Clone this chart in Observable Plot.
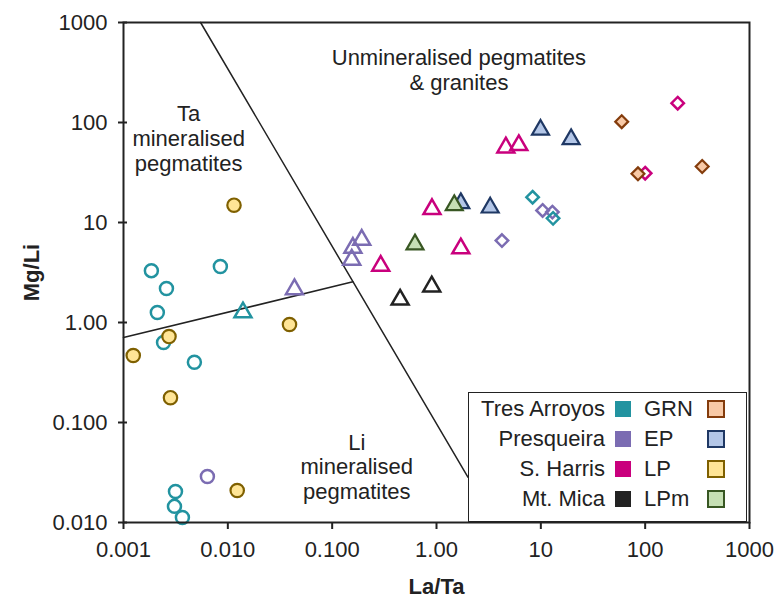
<!DOCTYPE html>
<html>
<head>
<meta charset="utf-8">
<script src="https://cdn.jsdelivr.net/npm/d3@7"></script>
<script src="https://cdn.jsdelivr.net/npm/@observablehq/plot@0.6"></script>
<style>
  html, body { margin: 0; padding: 0; background: #fff; }
  #wrap { position: relative; width: 779px; height: 605px; font-family: "Liberation Sans", Arial, sans-serif; }
  [aria-label="x-axis label"], [aria-label="y-axis label"] { font-weight: bold; }
  #legend { position: absolute; left: 468px; top: 392px; width: 279px; height: 130px;
            box-sizing: border-box; border: 1.5px solid #222; background: #fff; color: #222;
            font-size: 22px; }
  #legend span { position: absolute; }
</style>
</head>
<body>
<div id="wrap"></div>
<script>
// ---- tick labels ----
const xTicks = [0.001, 0.01, 0.1, 1, 10, 100, 1000];
const xTickLabels = ["0.001", "0.010", "0.100", "1.00", "10", "100", "1000"];
const yTicks = [0.01, 0.1, 1, 10, 100, 1000];
const yTickLabels = ["0.010", "0.100", "1.00", "10", "100", "1000"];

// ---- legend categories ----
const localities = ["Tres Arroyos", "Presqueira", "S. Harris", "Mt. Mica"];
const rockTypes = ["GRN", "EP", "LP", "LPm"];

// ---- data [La/Ta, Mg/Li] ----
const tresArroyosLP = [[0.00185, 3.3], [0.00258, 2.19], [0.00211, 1.26], [0.00848, 3.63], [0.00242, 0.63],
                       [0.00478, 0.40], [0.00315, 0.0204], [0.00308, 0.0145], [0.00367, 0.0112]];
const tresArroyosEP = [[0.01396, 1.26]];
const tresArroyosGRN = [[8.34, 17.9], [13.1, 11.0]];
const presqueiraEP = [[0.0435, 2.15], [0.192, 6.71], [0.158, 5.58], [0.154, 4.24]];
const presqueiraLP = [[0.00637, 0.0288]];
const presqueiraGRN = [[4.24, 6.6], [10.4, 13.2], [12.9, 12.7]];
const sHarrisEP = [[0.292, 3.69], [0.905, 13.6], [1.71, 5.50], [4.62, 56.2], [6.15, 59.3]];
const sHarrisGRN = [[205, 156], [100, 31.1]];
const mtMicaEP = [[0.448, 1.69], [0.90, 2.29]];
const grnRef = [[59.6, 102], [85.3, 30.7], [352, 36.3]];
const epRef = [[1.71, 15.6], [3.27, 14.1], [9.93, 84.5], [19.5, 68.1]];
const lpRef = [[0.01146, 14.9], [0.00273, 0.724], [0.039, 0.955], [0.00124, 0.468], [0.00282, 0.177], [0.0123, 0.0209]];
const lpmRef = [[0.622, 6.03], [1.48, 14.9]];

// ---- field boundaries ----
const boundaryTa = [[0.00548, 1000], [2.0, 0.0284]];
const boundaryLi = [[0.001, 0.707], [0.158, 2.55]];

// ---- field labels ----
const fieldLabels = [
  {x: 1.64, y: 339, text: "Unmineralised pegmatites\n& granites"},
  {x: 0.00421, y: 70, text: "Ta\nmineralised\npegmatites"},
  {x: 0.172, y: 0.0363, text: "Li\nmineralised\npegmatites"}
];

// ---- styles ----
const localityColors = ["#2293a0", "#7b6cb2", "#c9007d", "#222222"];
const rockFills = ["#f8c9a6", "#b3c6e7", "#ffe596", "#c6e0b4"];
const rockStrokes = ["#843c0c", "#1f3864", "#7f6000", "#385723"];

const xy = {x: d => d[0], y: d => d[1]};
const openDot = (data, symbol, color, r) =>
  Plot.dot(data, {...xy, symbol, r, stroke: color, fill: "none", strokeWidth: 2.5});
const filledDot = (data, symbol, i, r) =>
  Plot.dot(data, {...xy, symbol, r, stroke: rockStrokes[i], fill: rockFills[i], strokeWidth: 2.2});

const chart = Plot.plot({
  width: 779,
  height: 605,
  marginLeft: 123,
  marginRight: 30,
  marginTop: 22,
  marginBottom: 83,
  style: {fontFamily: "'Liberation Sans', Arial, sans-serif", fontSize: "22px", color: "#222", background: "white"},
  x: {type: "log", domain: [0.001, 1000]},
  y: {type: "log", domain: [0.01, 1000]},
  marks: [
    Plot.axisX({ticks: xTicks, tickFormat: d => xTickLabels[xTicks.indexOf(d)], tickSize: 7, tickPadding: 12,
                strokeWidth: 2, label: "La/Ta", labelAnchor: "center", labelOffset: 71, labelArrow: "none"}),
    Plot.axisY({ticks: yTicks, tickFormat: d => yTickLabels[yTicks.indexOf(d)], tickSize: 9, insetLeft: 4, tickPadding: 11,
                strokeWidth: 2, label: "Mg/Li", labelAnchor: "center", labelOffset: 100, labelArrow: "none"}),
    Plot.line(boundaryTa, {...xy, stroke: "#222", strokeWidth: 1.5}),
    Plot.line(boundaryLi, {...xy, stroke: "#222", strokeWidth: 1.5}),
    Plot.text(fieldLabels, {x: "x", y: "y", text: "text", textAnchor: "middle", lineAnchor: "middle", lineHeight: 1.12, fill: "#222"}),
    openDot(tresArroyosLP, "circle", localityColors[0], 6.5),
    openDot(presqueiraLP, "circle", localityColors[1], 6.5),
    openDot(tresArroyosEP, "triangle", localityColors[0], 6.3),
    openDot(presqueiraEP, "triangle", localityColors[1], 6.3),
    openDot(sHarrisEP, "triangle", localityColors[2], 6.3),
    openDot(mtMicaEP, "triangle", localityColors[3], 6.3),
    openDot(sHarrisGRN, "diamond2", localityColors[2], 5.6),
    openDot(presqueiraGRN, "diamond2", localityColors[1], 5.6),
    openDot(tresArroyosGRN, "diamond2", localityColors[0], 5.6),
    filledDot(grnRef, "diamond2", 0, 5.8),
    filledDot(epRef, "triangle", 1, 6.3),
    filledDot(lpRef, "circle", 2, 6.7),
    filledDot(lpmRef, "triangle", 3, 6.3),
    Plot.frame({stroke: "#222", strokeWidth: 2})
  ]
});

const wrap = document.getElementById("wrap");
wrap.appendChild(chart);

// ---- legend (overlay inside plot area, lower right) ----
const legend = document.createElement("div");
legend.id = "legend";
localities.forEach((name, i) => {
  const top = 16 + 30 * i;
  const t1 = document.createElement("span");
  t1.textContent = name;
  Object.assign(t1.style, {right: "141px", top: (top - 15) + "px", lineHeight: "30px", whiteSpace: "nowrap"});
  const s1 = document.createElement("span");
  Object.assign(s1.style, {left: "146px", top: (top - 8) + "px", width: "16px", height: "16px", background: localityColors[i]});
  const t2 = document.createElement("span");
  t2.textContent = rockTypes[i];
  Object.assign(t2.style, {left: "175px", top: (top - 15) + "px", lineHeight: "30px"});
  const s2 = document.createElement("span");
  Object.assign(s2.style, {left: "238px", top: (top - 9) + "px", width: "18px", height: "18px", boxSizing: "border-box",
    background: rockFills[i], border: "2px solid " + rockStrokes[i]});
  legend.append(t1, s1, t2, s2);
});
wrap.appendChild(legend);
</script>
</body>
</html>
